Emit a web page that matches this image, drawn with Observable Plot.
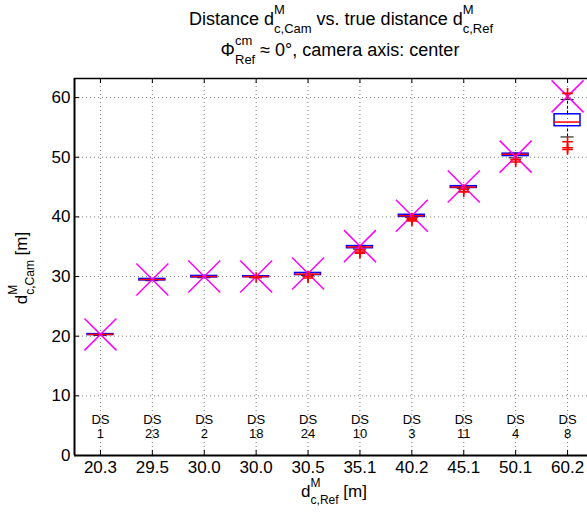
<!DOCTYPE html>
<html>
<head>
<meta charset="utf-8">
<script src="https://cdn.jsdelivr.net/npm/d3@7"></script>
<script src="https://cdn.jsdelivr.net/npm/@observablehq/plot@0.6"></script>
<style>
  html, body { margin: 0; padding: 0; background: white; }
  #chart { width: 587px; height: 512px; overflow: hidden; }
</style>
</head>
<body>
<div id="chart"></div>
<script>
// ---- data ----
const xLabels = ["20.3","29.5","30.0","30.0","30.5","35.1","40.2","45.1","50.1","60.2"];
const dsNames = ["1","23","2","18","24","10","3","11","4","8"];
const trueDist = [20.3,29.5,30.0,30.0,30.5,35.1,40.2,45.1,50.1,60.2];
const q1      = [20.2,29.35,29.85,29.9,30.25,34.75,40.0,44.85,50.2,55.2];
const median  = [20.3,29.5,30.0,30.0,30.4,34.95,40.2,45.0,50.5,55.9];
const q3      = [20.35,29.6,30.1,30.05,30.6,35.1,40.35,45.15,50.6,57.2];
const whiskLo = [20.15,29.3,29.8,29.8,30.2,34.6,39.95,44.8,49.9,53.4];
const whiskHi = [20.4,29.65,30.15,30.1,30.65,35.15,40.4,45.2,50.7,59.7];
const outlierIdx = [3,4,4,5,5,5,6,6,6,7,7,8,8,9,9,9,9];
const outlierVal = [29.85,30.05,29.75,34.45,34.1,33.9,39.8,39.5,39.3,44.6,44.2,49.6,49.2,60.7,52.6,51.6,51.3];
const yTicks = [0,10,20,30,40,50,60];

// ---- derived tables ----
const idx = d3.range(xLabels.length);
const boxes = idx.map(i => ({i, q1: q1[i], med: median[i], q3: q3[i], lo: whiskLo[i], hi: whiskHi[i], t: trueDist[i], ds: "DS\n" + dsNames[i]}));
const outliers = outlierIdx.map((i, k) => ({i, v: outlierVal[k]}));

const yMax = 63.2;
const halfBox = 0.25, halfCap = 0.125;
const FONT = "'Liberation Sans', Arial, Helvetica, sans-serif";

const svg = Plot.plot({
  width: 587,
  height: 512,
  marginLeft: 74,
  marginRight: 0,
  marginTop: 78,
  marginBottom: 57,
  x: {type: "linear", domain: [-0.5, 9.5], range: [74, 593]},
  y: {domain: [0, yMax], range: [455, 78]},
  style: {fontFamily: FONT, fontSize: "17px", color: "black", background: "white"},
  marks: [
    // dotted grid
    Plot.ruleX(idx, {x: d => d, y1: 0, y2: yMax, stroke: "#444", strokeOpacity: 0.7, strokeDasharray: "1,3"}),
    Plot.ruleY(yTicks, {y: d => d, stroke: "#444", strokeOpacity: 0.7, strokeDasharray: "1,3"}),
    // axes frame
    Plot.ruleX([-0.5], {y1: 0, y2: yMax, stroke: "black", strokeWidth: 2}),
    Plot.ruleY([0], {stroke: "black", strokeWidth: 2}),
    Plot.ruleY([yMax], {stroke: "black", strokeWidth: 1.5}),
    // inward ticks
    Plot.ruleY(yTicks, {y: d => d, x1: -0.5, x2: -0.4, stroke: "black", strokeWidth: 1}),
    Plot.ruleX(idx, {x: d => d, y1: 0, y2: 0.85, stroke: "black", strokeWidth: 1}),
    Plot.ruleX(idx, {x: d => d, y1: yMax, y2: yMax - 0.85, stroke: "black", strokeWidth: 1}),
    // tick labels
    Plot.axisY({ticks: yTicks, tickSize: 0, tickPadding: 4, label: null, fontSize: 17}),
    Plot.axisX({ticks: idx, tickFormat: i => xLabels[i], tickSize: 0, tickPadding: 5, label: null, fontSize: 17}),
    // DS labels
    Plot.text(boxes, {x: "i", y: 4.9, text: "ds", fontSize: 13, lineHeight: 1.08, fill: "black"}),
    // whiskers
    Plot.ruleX(boxes, {x: "i", y1: "q3", y2: "hi", stroke: "black", strokeWidth: 1, strokeDasharray: "3,2"}),
    Plot.ruleX(boxes, {x: "i", y1: "lo", y2: "q1", stroke: "black", strokeWidth: 1, strokeDasharray: "3,2"}),
    Plot.ruleY(boxes, {y: "hi", x1: d => d.i - halfCap, x2: d => d.i + halfCap, stroke: "black", strokeWidth: 1}),
    Plot.ruleY(boxes, {y: "lo", x1: d => d.i - halfCap, x2: d => d.i + halfCap, stroke: "black", strokeWidth: 1}),
    // boxes
    Plot.rect(boxes, {x1: d => d.i - halfBox, x2: d => d.i + halfBox, y1: "q1", y2: "q3", stroke: "#0000ff", strokeWidth: 1.5, fill: "none"}),
    // medians
    Plot.ruleY(boxes, {y: "med", x1: d => d.i - halfBox, x2: d => d.i + halfBox, stroke: "#ff0000", strokeWidth: 1.5}),
    // true distance markers
    Plot.dot(boxes, {x: "i", y: "t", symbol: "times", r: 14.6, stroke: "#ff00ff", strokeWidth: 1.5}),
    // outliers
    Plot.dot(outliers, {x: "i", y: "v", symbol: "plus", r: 3.5, stroke: "#ff0000", strokeWidth: 1.6})
  ]
});

document.getElementById("chart").appendChild(svg);

// ---- rich (super/subscript) labels ----
const sel = d3.select(svg);
function rich(parts, cx, cy, opts = {}) {
  const main = opts.main || 16, script = opts.script || 11;
  const supDy = opts.supDy || -10, subDy = opts.subDy || 7;
  const outer = sel.append("g").attr("font-family", FONT).attr("fill", "black").attr("text-anchor", "start");
  const g = outer.append("g");
  let cur = 0;
  for (const p of parts) {
    if (typeof p === "string") {
      const t = g.append("text").attr("x", cur).attr("y", 0).attr("font-size", main).attr("text-anchor", "start").style("white-space", "pre").text(p);
      cur += t.node().getComputedTextLength();
    } else {
      const a = g.append("text").attr("x", cur).attr("y", supDy).attr("font-size", script).attr("text-anchor", "start").text(p.sup);
      const b = g.append("text").attr("x", cur).attr("y", subDy).attr("font-size", script).attr("text-anchor", "start").text(p.sub);
      cur += Math.max(a.node().getComputedTextLength(), b.node().getComputedTextLength());
    }
  }
  g.attr("transform", `translate(${-cur / 2},0)`);
  outer.attr("transform", `translate(${cx},${cy})` + (opts.rotate ? ` rotate(${opts.rotate})` : ""));
}

const titleOpts = {main: 18, script: 13, supDy: -11, subDy: 8};
rich(["Distance d", {sup: "M", sub: "c,Cam"}, " vs. true distance d", {sup: "M", sub: "c,Ref"}], 341, 25, titleOpts);
rich(["Φ", {sup: "cm", sub: "Ref"}, " ≈ 0°, camera axis: center"], 340, 56, titleOpts);
rich(["d", {sup: "M", sub: "c,Ref"}, " [m]"], 334, 497, {main: 17, script: 12, supDy: -10, subDy: 7});
rich(["d", {sup: "M", sub: "c,Cam"}, " [m]"], 27, 268, {main: 17, script: 12, supDy: -10, subDy: 7, rotate: -90});
</script>
</body>
</html>
